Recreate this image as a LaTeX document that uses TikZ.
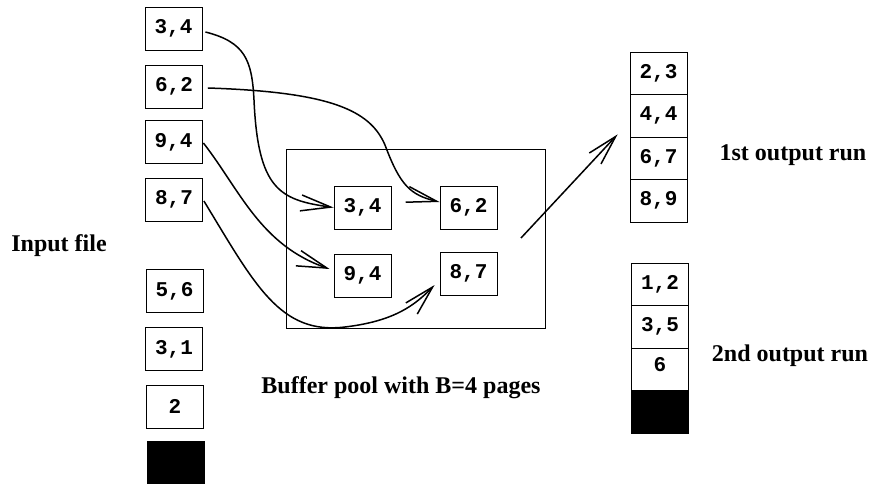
\documentclass[tikz,border=0pt]{standalone}
\usepackage{fontspec}
\setmainfont{Liberation Serif}
\newfontfamily\monofnt{Liberation Mono}
\usetikzlibrary{arrows.meta,calc}
\begin{document}
\begin{tikzpicture}[x=1pt,y=-1pt,
 page/.style={draw, line width=0.8pt, minimum width=57pt, minimum height=43pt, inner sep=0pt, font=\monofnt\bfseries\fontsize{21}{21}\selectfont},
 cell/.style={page, minimum height=42.5pt},
 blk/.style={draw, fill=black, line width=0.8pt, minimum width=57pt, minimum height=43pt, inner sep=0pt},
 lbl/.style={font=\bfseries\fontsize{24}{24}\selectfont, inner sep=0pt},
 flow/.style={line width=1.5pt, -{Straight Barb[length=30pt,width=16pt]}}
]
\useasboundingbox (0,0) rectangle (871,484);
% input file
\node[page] (in1) at (173.5,28.5) {3,4};
\node[page] (in2) at (174,86.5) {6,2};
\node[page] (in3) at (173.5,142) {9,4};
\node[page] (in4) at (174,199.5) {8,7};
\node[page] (in5) at (174.5,291) {5,6};
\node[page] (in6) at (174,349) {3,1};
\node[page] (in7) at (175,406.5) {2};
\node[blk] (in8) at (176,462.5) {};
% buffer pool
\node[draw, line width=0.8pt, minimum width=259pt, minimum height=179pt, inner sep=0pt] (pool) at (415.5,238.5) {};
\node[page] (b1) at (362.5,207.5) {3,4};
\node[page] (b2) at (468.5,207.5) {6,2};
\node[page] (b3) at (362.5,275.5) {9,4};
\node[page] (b4) at (468.5,273.5) {8,7};
% output runs
\node[cell] (o1) at (658.5,73.25) {2,3};
\node[cell] (o2) at (658.5,115.75) {4,4};
\node[cell] (o3) at (658.5,158.25) {6,7};
\node[cell] (o4) at (658.5,200.75) {8,9};
\node[cell] (p1) at (660,284.25) {1,2};
\node[cell] (p2) at (660,326.75) {3,5};
\node[cell, text depth=10pt] (p3) at (660,369.25) {6};
\node[blk, minimum height=42.5pt] (p4) at (660,411.75) {};
% labels
\node[lbl] (inlbl) at (59,246) {Input file};
\node[lbl] (poollbl) at (401,388) {Buffer pool with B=4 pages};
\node[lbl] (run1lbl) at (793,155) {1st output run};
\node[lbl] (run2lbl) at (790,356) {2nd output run};
% connectors
\draw[flow] ([shift={(3,3.5)}]in1.east) .. controls (245,42) and (252,60) .. (254,100)
  .. controls (258,190) and (280,200) .. (b1.west);
\draw[flow] ([shift={(5,1.5)}]in2.east) .. controls (330,92) and (370,110) .. (385,145)
  .. controls (400,185) and (410,195) .. ([shift={(0,-5.5)}]b2.west);
\draw[flow] ([shift={(1,1)}]in3.east) .. controls (240,190) and (260,245) .. ([shift={(-4,-6.5)}]b3.west);
\draw[flow] ([shift={(1,1.5)}]in4.east) .. controls (255,285) and (280,335) .. (345,327)
  .. controls (395,321) and (415,305) .. ([shift={(-5,11.5)}]b4.west);
\coordinate (src) at (521,238);
\draw[flow] (src) -- ([shift={(-12,-3)}]o2.south west);
\end{tikzpicture}
\end{document}
